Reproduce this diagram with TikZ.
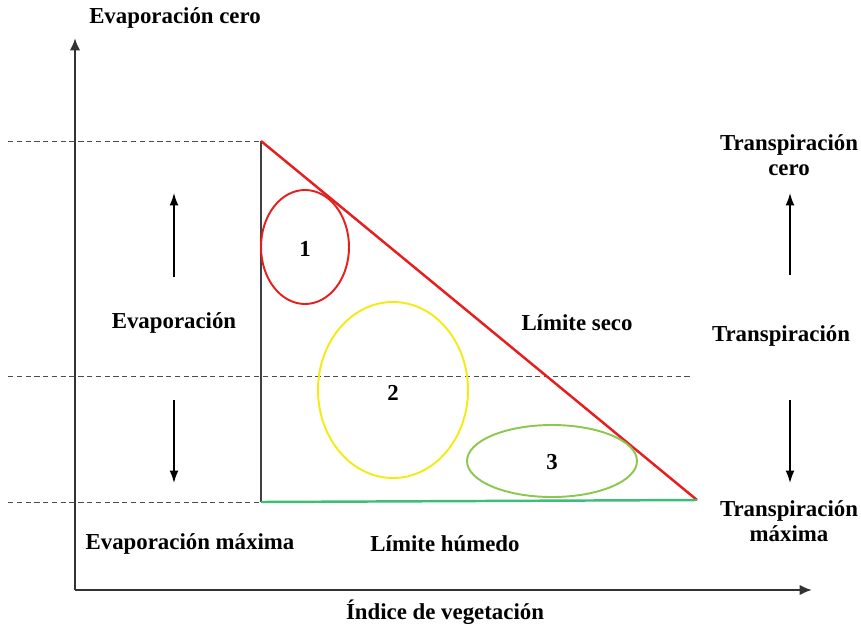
\documentclass[tikz,border=0pt]{standalone}
\usepackage{fontspec}
\usetikzlibrary{arrows.meta}
\setmainfont{Liberation Serif}
\definecolor{seco}{RGB}{230,30,30}
\definecolor{humedo}{RGB}{60,190,120}
\definecolor{zonados}{RGB}{245,235,20}
\definecolor{zonatres}{RGB}{140,200,80}
\tikzset{
  lbl/.style={font=\bfseries\fontsize{13}{14.5}\selectfont, align=center, inner sep=0pt},
  guia/.style={densely dashed, thin, black!70},
  flecha/.style={-{Latex[length=7pt,width=5pt]}, thick},
}
\begin{document}
\begin{tikzpicture}[x=0.02cm,y=-0.02cm]
   \useasboundingbox (0,0) rectangle (861,625);
   % puntos del triangulo
   \coordinate (origen) at (75,590);
   \coordinate (ytop) at (75,38);
   \coordinate (xtop) at (812,590);
   \coordinate (a) at (261,141);
   \coordinate (b) at (261,502);
   \coordinate (c) at (697,500);

   % ejes
   \draw[-{Latex[length=7pt,width=6pt]},line width=1.5pt,black!80] (origen) -- (ytop);
   \draw[-{Latex[length=7pt,width=6pt]},line width=1.5pt,black!80] (origen) -- (xtop);

   % lineas guia
   \draw[guia] (8,141) -- (a);
   \draw[guia] (8,376) -- (690,376);
   \draw[guia] (8,502) -- (b);

   % triangulo
   \draw[line width=1.4pt,black!75] (a) -- (b);
   \draw[seco,line width=1.4pt] (a) -- (c);
   \draw[humedo,line width=1.4pt] (b) -- (c);

   % zonas
   \draw[seco,line width=1.1pt] (305,247) ellipse [x radius=44, y radius=57];
   \draw[zonados,line width=1.1pt] (393,390) ellipse [x radius=75, y radius=88];
   \draw[zonatres,line width=1.1pt] (552,461) ellipse [x radius=85, y radius=36];
   \node[lbl] (uno) at (305,249) {1};
   \node[lbl] (dos) at (393,393) {2};
   \node[lbl] (tres) at (552,462) {3};

   % flechas
   \draw[flecha] (174,277) -- (174,193);
   \draw[flecha] (174,400) -- (174,483);
   \draw[flecha] (790,275) -- (790,193);
   \draw[flecha] (790,400) -- (790,483);

   % textos
   \node[lbl] (evcero) at (175,18) {Evaporación cero};
   \node[lbl] (evap) at (174,323) {Evaporación};
   \node[lbl] (evmax) at (190,544) {Evaporación máxima};
   \node[lbl] (lseco) at (577,323) {Límite seco};
   \node[lbl] (lhum) at (445,544) {Límite húmedo};
   \node[lbl] (ndvi) at (445,612) {Índice de vegetación};
   \node[lbl] (trcero) at (789,155) {Transpiración\\cero};
   \node[lbl] (trans) at (781,336) {Transpiración};
   \node[lbl] (trmax) at (789,521) {Transpiración\\máxima};
  \end{tikzpicture}
\end{document}
